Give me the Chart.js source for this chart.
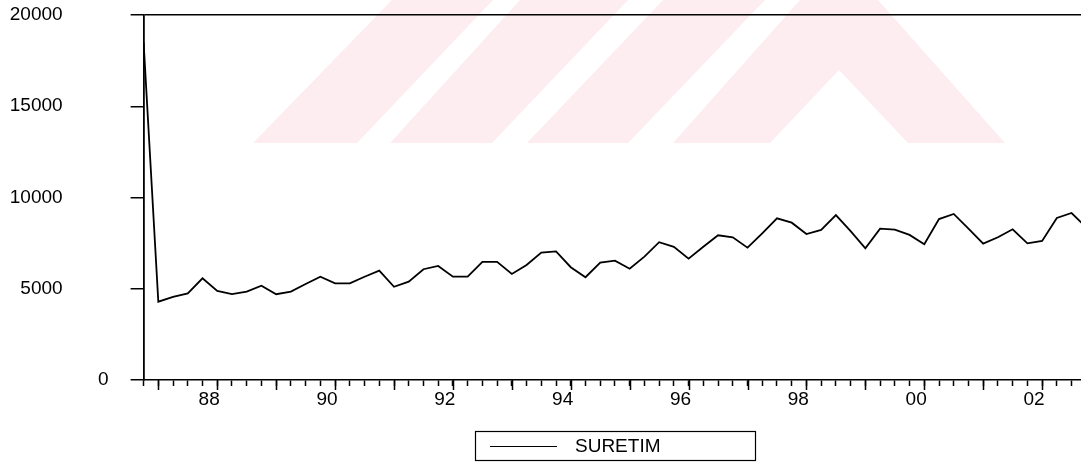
<!DOCTYPE html>
<html><head><meta charset="utf-8">
<script src="https://cdn.jsdelivr.net/npm/chart.js@4/dist/chart.umd.min.js"></script>
<style>html,body{margin:0;padding:0;background:#fff;}#wrap{width:1081px;height:465px;position:relative;}</style>
</head><body><div id="wrap"><canvas id="c" width="1081" height="465"></canvas></div>
<script>
// quarterly categories
const quarters = ['86Q4',
 '87Q1','87Q2','87Q3','87Q4','88Q1','88Q2','88Q3','88Q4','89Q1','89Q2','89Q3','89Q4',
 '90Q1','90Q2','90Q3','90Q4','91Q1','91Q2','91Q3','91Q4','92Q1','92Q2','92Q3','92Q4',
 '93Q1','93Q2','93Q3','93Q4','94Q1','94Q2','94Q3','94Q4','95Q1','95Q2','95Q3','95Q4',
 '96Q1','96Q2','96Q3','96Q4','97Q1','97Q2','97Q3','97Q4','98Q1','98Q2','98Q3','98Q4',
 '99Q1','99Q2','99Q3','99Q4','00Q1','00Q2','00Q3','00Q4','01Q1','01Q2','01Q3','01Q4',
 '02Q1','02Q2','02Q3','02Q4'];
// SURETIM series
const suretim = [18500,
 4290,4560,4750,5570, 4880,4710,4840,5170, 4700,4840,5260,5660,
 5300,5300,5660,5990, 5110,5390,6070,6250, 5660,5660,6470,6470,
 5810,6300,6980,7050, 6180,5630,6430,6540, 6100,6760,7550,7300,
 6650,7300,7930,7820, 7250,8040,8860,8620, 8000,8220,9040,8160,
 7220,8290,8240,7950, 7440,8820,9100,8290, 7470,7820,8260,7490,
 7620,8880,9150,8350];
const yearLabels = ['88','90','92','94','96','98','00','02'];
const yTicks = [0,5000,10000,15000,20000];
const seriesName = 'SURETIM';

const FONT = {family:'"Liberation Sans", Arial, sans-serif', size:19};
const majorIdx = quarters.map((q,i)=>q.endsWith('Q1')?i:-1).filter(i=>i>=0);
const labelPos = {};
yearLabels.forEach(y=>{ const i = quarters.indexOf(y+'Q1'); labelPos[(i-0.55).toFixed(2)] = y; });

const watermark = {
  id:'watermark',
  beforeDraw(chart){
    const c = chart.ctx; c.save(); c.fillStyle='#fdedf0';
    const polys = [
      [[253,143],[357,143],[493,0],[392,0]],
      [[390,143],[492,143],[628,0],[520,0]],
      [[527,143],[628,143],[765,0],[663,0]],
      [[673,143],[800,0],[878,0],[1005,143],[908,143],[839,70],[770,143]]
    ];
    polys.forEach(p=>{c.beginPath();p.forEach((pt,k)=>k?c.lineTo(pt[0],pt[1]):c.moveTo(pt[0],pt[1]));c.closePath();c.fill();});
    c.restore();
  }
};
const extras = {
  id:'extras',
  afterDraw(chart){
    const c = chart.ctx, xs = chart.scales.x, bottom = chart.chartArea.bottom;
    c.save(); c.strokeStyle='#000'; c.lineWidth=1.5;
    majorIdx.forEach(i=>{ if(i>xs.max) return; const px = Math.round(xs.getPixelForValue(i))+0.5;
      c.beginPath(); c.moveTo(px,bottom); c.lineTo(px,bottom+10); c.stroke(); });
    // legend box
    c.lineWidth=1.2;
    c.strokeRect(475.5,431.5,280,29);
    c.beginPath(); c.moveTo(490,446.5); c.lineTo(557,446.5); c.stroke();
    c.fillStyle='#000'; c.font='19px "Liberation Sans", Arial, sans-serif'; c.textBaseline='middle'; c.textAlign='left';
    c.fillText(chart.data.datasets[0].label,575,447);
    c.restore();
  }
};
function noPad(s){ s.paddingTop=0; s.paddingBottom=0; s.paddingLeft=0; s.paddingRight=0; }

new Chart(document.getElementById('c'),{
  type:'line',
  data:{datasets:[{label:seriesName,data:suretim.map((v,i)=>({x:i,y:v})),borderColor:'#000',borderWidth:1.8,pointRadius:0,tension:0,fill:false}]},
  options:{
    responsive:false,animation:false,
    layout:{padding:{top:15,right:0,bottom:0,left:0}},
    plugins:{legend:{display:false},tooltip:{enabled:false}},
    scales:{
      x:{type:'linear',min:0,max:63.64,
        afterBuildTicks(s){ const t=[]; for(let i=0;i<=63;i++) t.push({value:i}); Object.keys(labelPos).forEach(k=>t.push({value:parseFloat(k)})); t.sort((a,b)=>a.value-b.value); s.ticks=t; },
        afterFit(s){ s.height = 85; noPad(s); },
        ticks:{autoSkip:false,maxRotation:0,minRotation:0,padding:2,color:'#000',font:FONT,
          callback(v){ const k=Number(v).toFixed(2); return labelPos[k]||''; }},
        grid:{drawOnChartArea:false,tickLength:6,tickWidth:1.5,
          tickColor(ctx){ return (ctx.tick && Number.isInteger(ctx.tick.value))?'#000':'rgba(0,0,0,0)'; }},
        border:{display:true,color:'#000',width:1.5}
      },
      y:{min:0,max:20000,weight:0,
        afterBuildTicks(s){ s.ticks = yTicks.map(v=>({value:v})); },
        afterFit(s){ s.width = 142.6; noPad(s); },
        ticks:{padding:68,color:'#000',font:FONT,crossAlign:'near',
          callback(v){ return v===0?'':String(v); }},
        grid:{drawOnChartArea:true,tickLength:13,tickWidth:1.5,lineWidth:1.5,tickColor:'#000',
          color(ctx){ return (ctx.tick && ctx.tick.value===20000)?'#000':'rgba(0,0,0,0)'; }},
        border:{display:true,color:'#000',width:1.8}
      },
      y2:{position:'left',min:0,max:20000,weight:1,
        afterBuildTicks(s){ s.ticks = [{value:yTicks[0]}]; },
        afterFit(s){ s.width = 1; noPad(s); },
        ticks:{mirror:true,padding:97,color:'#000',font:FONT,crossAlign:'near',callback(v){return String(v);}},
        grid:{display:false,drawTicks:false},
        border:{display:false}
      }
    }
  },
  plugins:[watermark,extras]
});
</script></body></html>
